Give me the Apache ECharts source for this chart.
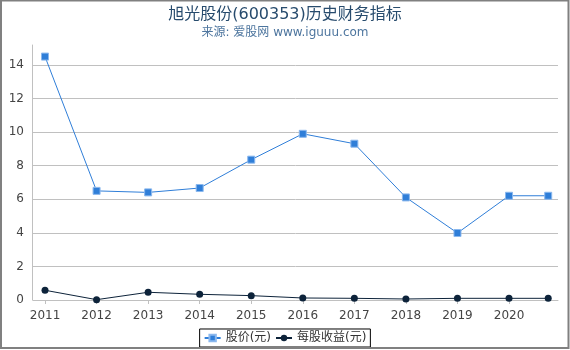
<!DOCTYPE html>
<html>
<head>
<meta charset="utf-8">
<script src="https://cdn.jsdelivr.net/npm/echarts@6/dist/echarts.min.js"></script>
<style>
html,body{margin:0;padding:0;background:#fff;}
#chart{width:570px;height:350px;}
</style>
</head>
<body>
<div id="chart"></div>
<script>
// Data
var years = [2011, 2012, 2013, 2014, 2015, 2016, 2017, 2018, 2019, 2020, 2020.76];
var tickYears = [2011, 2012, 2013, 2014, 2015, 2016, 2017, 2018, 2019, 2020];
var price = [14.5, 6.5, 6.41, 6.67, 8.36, 9.9, 9.31, 6.11, 3.99, 6.21, 6.21];
var eps = [0.58, 0.02, 0.46, 0.34, 0.26, 0.12, 0.1, 0.06, 0.1, 0.1, 0.1];
var yTicks = [0, 2, 4, 6, 8, 10, 12, 14];
var titleText = '旭光股份(600353)历史财务指标';
var subText = '来源: 爱股网 www.iguuu.com';
var seriesNames = ['股价(元)', '每股收益(元)'];

function pairs(xs, ys) { return xs.map(function (x, i) { return [x, ys[i]]; }); }

var FONT = '"DejaVu Sans", "Noto Sans CJK SC", sans-serif';
var chart = echarts.init(document.getElementById('chart'), null, {renderer: 'canvas'});
chart.setOption({
  animation: false,
  textStyle: {fontFamily: FONT},
  title: {
    text: titleText,
    subtext: subText,
    left: 'center',
    top: 2,
    itemGap: 4,
    textStyle: {color: '#274b6d', fontSize: 16, fontWeight: 'normal', fontFamily: FONT},
    subtextStyle: {color: '#4d759e', fontSize: 12, fontFamily: FONT}
  },
  legend: {
    bottom: 3,
    left: 'center',
    borderColor: '#000',
    borderWidth: 1,
    borderRadius: 0,
    padding: [3, 4, 3, 4],
    itemGap: 4,
    itemWidth: 16,
    itemHeight: 8,
    textStyle: {color: '#333', fontSize: 12, fontFamily: FONT},
    data: seriesNames
  },
  graphic: [{
    type: 'rect',
    shape: {x: 1, y: 0.5, width: 567.5, height: 347.5},
    style: {fill: 'none', stroke: '#808080', lineWidth: 2},
    silent: true,
    z: 100
  }],
  grid: {left: 33, right: 12, top: 45, bottom: 50},
  xAxis: {
    type: 'value',
    min: 2010.767,
    max: 2020.95,
    offset: 4,
    splitLine: {show: false},
    axisLine: {show: true, lineStyle: {color: '#c0c0c0'}},
    axisTick: {show: true, length: 4, lineStyle: {color: '#c0c0c0'}, customValues: tickYears},
    axisLabel: {color: '#444', fontSize: 12, margin: 6, customValues: tickYears, formatter: function (v) { return String(Math.round(v)); }}
  },
  yAxis: {
    type: 'value',
    min: 0,
    max: 15.19,
    interval: 2,
    offset: 1,
    axisLine: {show: true, lineStyle: {color: '#c0c0c0'}},
    axisTick: {show: false, customValues: yTicks},
    splitLine: {show: true, lineStyle: {color: '#c0c0c0', width: 1}},
    axisLabel: {color: '#444', fontSize: 12, margin: 8, customValues: yTicks}
  },
  series: [{
    name: seriesNames[0],
    type: 'line',
    data: pairs(years, price),
    symbol: 'rect',
    symbolSize: 7,
    lineStyle: {color: '#2f7ed8', width: 1},
    itemStyle: {color: '#2f7ed8', borderColor: '#8bb8ee', borderWidth: 1}
  }, {
    name: seriesNames[1],
    type: 'line',
    data: pairs(years, eps),
    symbol: 'circle',
    symbolSize: 7,
    lineStyle: {color: '#0d233a', width: 1},
    itemStyle: {color: '#0d233a'}
  }]
});
</script>
</body>
</html>
